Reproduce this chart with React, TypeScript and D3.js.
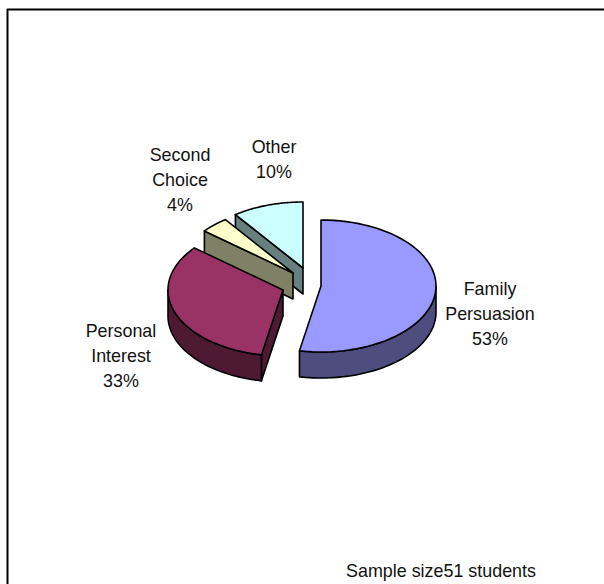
import React from "react";
import * as d3 from "d3";

const categories = ["Family Persuasion", "Personal Interest", "Second Choice", "Other"];
const values = [53, 33, 4, 10];
const labelLines = [["Family", "Persuasion", "53%"], ["Personal", "Interest", "33%"], ["Second", "Choice", "4%"], ["Other", "10%"]];
const topColors = ["#9999FF", "#993366", "#FFFFCC", "#CCFFFF"];
const sideColors = ["#4D4D80", "#4D1933", "#808066", "#668080"];
const centers: [number, number][] = [[321, 286], [283, 290], [293, 273], [303, 268]];
const labelPos: [number, number][] = [[490, 295], [121, 337], [180, 161], [274, 153]];

const RX = 115, RY = 66, DEPTH = 26;

function pt(c: [number, number], a: number, dy = 0): [number, number] {
  return [c[0] + RX * Math.sin(a), c[1] - RY * Math.cos(a) + dy];
}
function rim(c: [number, number], a0: number, a1: number, dy = 0): [number, number][] {
  const steps = d3.range(0, 61).map((i) => a0 + ((a1 - a0) * i) / 60);
  return steps.map((a) => pt(c, a, dy));
}
const line = d3.line<[number, number]>();

export default function App() {
  const arcs = d3.pie<number>().sort(null).value((d) => d)(values);
  const order = [3, 2, 1, 0];
  return (
    <svg width={604} height={584} style={{ position: "absolute", left: 0, top: 0 }} fontFamily="'Liberation Sans', Arial, sans-serif" fontSize={17.9} fill="#111">
      <line x1={7} y1={9.5} x2={604} y2={9.5} stroke="#000" strokeWidth={2} />
      <line x1={7.5} y1={9} x2={7.5} y2={584} stroke="#000" strokeWidth={2} />
      {order.map((i) => {
        const { startAngle: a0, endAngle: a1 } = arcs[i];
        const c = centers[i];
        const faces: string[] = [];
        // cut face along the leading edge, visible when that edge lies on the left half
        if (a0 > Math.PI) {
          const p = pt(c, a0);
          faces.push(line([c, p, [p[0], p[1] + DEPTH], [c[0], c[1] + DEPTH]])! + "Z");
        }
        // outer wall: the part of the rim on the near (lower) half
        const w0 = Math.max(a0, Math.PI / 2);
        const w1 = Math.min(a1, Math.PI * 1.5);
        if (w1 > w0) {
          const upper = rim(c, w0, w1);
          const lower = rim(c, w0, w1, DEPTH).reverse();
          faces.push(line([...upper, ...lower])! + "Z");
        }
        const top = line([c, ...rim(c, a0, a1)])! + "Z";
        return (
          <g key={categories[i]} stroke="#000" strokeWidth={1.6} strokeLinejoin="round">
            {faces.map((d, k) => (
              <path key={k} d={d} fill={sideColors[i]} />
            ))}
            <path d={top} fill={topColors[i]} />
          </g>
        );
      })}
      {labelLines.map((lines, i) => (
        <text key={i} textAnchor="middle" x={labelPos[i][0]} y={labelPos[i][1]}>
          {lines.map((t, k) => (
            <tspan key={k} x={labelPos[i][0]} dy={k === 0 ? 0 : 25}>{t}</tspan>
          ))}
        </text>
      ))}
      <text x={346} y={577}>Sample size51 students</text>
    </svg>
  );
}
